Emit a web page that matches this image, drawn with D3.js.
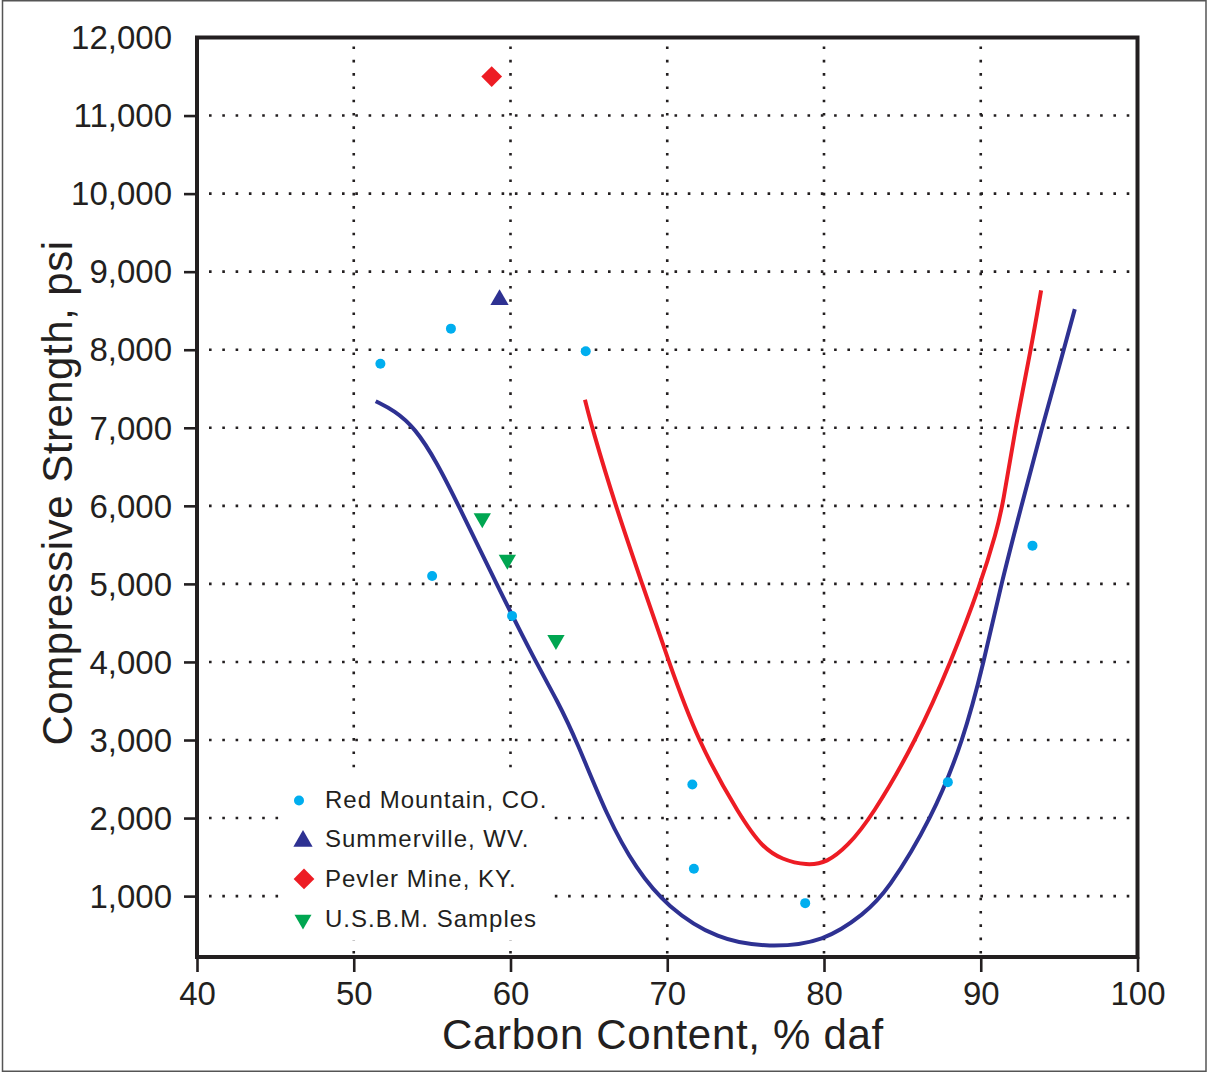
<!DOCTYPE html>
<html>
<head>
<meta charset="utf-8">
<script src="https://cdn.jsdelivr.net/npm/d3@7"></script>
<style>
html, body { margin: 0; padding: 0; background: #ffffff; }
svg { display: block; }
text { font-family: "Liberation Sans", Arial, Helvetica, sans-serif; fill: #231f20; }
</style>
</head>
<body>
<svg id="chart" width="1208" height="1073"></svg>
<script>
// ---------- data ----------
const xTickValues = [40, 50, 60, 70, 80, 90, 100];
const yTickValues = [1000, 2000, 3000, 4000, 5000, 6000, 7000, 8000, 9000, 10000, 11000, 12000];
const xGridValues = [50, 60, 70, 80, 90];
const yGridValues = [1000, 2000, 3000, 4000, 5000, 6000, 7000, 8000, 9000, 10000, 11000];

const xTitle = "Carbon Content, % daf";
const yTitle = "Compressive Strength, psi";

const seriesNames = ["Red Mountain, CO.", "Summerville, WV.", "Pevler Mine, KY.", "U.S.B.M. Samples"];

const redMountainX = [51.7, 56.2, 64.8, 55.0, 60.1, 71.6, 71.7, 78.8, 87.9, 93.3];
const redMountainY = [7820, 8270, 7980, 5100, 4590, 2430, 1350, 910, 2460, 5490];

const summervilleX = [59.3];
const summervilleY = [8640];

const pevlerX = [58.8];
const pevlerY = [11500];

const usbmX = [58.2, 59.8, 62.9];
const usbmY = [5840, 5310, 4280];

const blueCurveX = [51.4, 52.6, 53.9, 55.3, 56.7, 59.1, 61.6, 63.0, 64.2, 66.2, 68.0, 70.0, 73.2, 76.5, 80.0, 82.6, 84.0, 86.9, 88.9, 90.2, 91.3, 92.6, 93.9, 95.3, 96.0];
const blueCurveY = [7340, 7220, 7000, 6560, 6000, 5000, 4000, 3500, 3000, 2000, 1350, 860, 440, 340, 410, 780, 1050, 2000, 3000, 4000, 5000, 6000, 7000, 8000, 8520];

const redCurveX = [64.75, 65.2, 66.7, 68.4, 70.1, 71.9, 74.7, 76.1, 77.3, 78.9, 80.2, 81.5, 83.0, 85.9, 88.1, 90.0, 91.0, 91.4, 92.2, 93.2, 93.85];
const redCurveY = [7360, 7000, 6000, 5000, 4000, 3000, 2000, 1620, 1470, 1390, 1430, 1640, 2000, 3000, 4000, 5000, 5670, 6000, 7000, 8000, 8760];

// ---------- layout ----------
const plot = { left: 197, right: 1137.5, top: 37.5, bottom: 957 };
const colors = { cyan: "#00aeef", navy: "#2e3192", red: "#ed1c24", green: "#00a651", ink: "#231f20" };

const svg = d3.select("#chart");

const x = d3.scaleLinear().domain([40, 100]).range([plot.left, plot.right]);
const y = d3.scaleLinear().domain([220, 12000]).range([plot.bottom, plot.top]);

// outer border
svg.append("rect")
  .attr("x", 2.5).attr("y", 0.75).attr("width", 1203.5).attr("height", 1070.5)
  .attr("fill", "none").attr("stroke", "#555").attr("stroke-width", 1.5);

// gridlines
const grid = svg.append("g").attr("stroke", colors.ink).attr("stroke-width", 2.6)
  .attr("stroke-dasharray", "2.6 10.7").attr("fill", "none");
grid.selectAll("line.h").data(yGridValues).join("line")
  .attr("class", "h")
  .attr("x1", plot.left + 12).attr("x2", plot.right - 3)
  .attr("y1", d => y(d)).attr("y2", d => y(d));
grid.selectAll("line.v").data(xGridValues).join("line")
  .attr("class", "v")
  .attr("x1", d => x(d)).attr("x2", d => x(d))
  .attr("y1", plot.top + 9).attr("y2", plot.bottom - 2);

// legend background (hides grid)
const legend = svg.append("g");
legend.append("rect")
  .attr("x", 281).attr("y", 774).attr("width", 272).attr("height", 166)
  .attr("fill", "#ffffff");

// curves
const line = d3.line().x(d => x(d[0])).y(d => y(d[1])).curve(d3.curveBasis);
svg.append("path")
  .datum(d3.zip(blueCurveX, blueCurveY))
  .attr("d", line).attr("fill", "none").attr("stroke", colors.navy).attr("stroke-width", 4)
  .attr("stroke-linecap", "butt");
svg.append("path")
  .datum(d3.zip(redCurveX, redCurveY))
  .attr("d", line).attr("fill", "none").attr("stroke", colors.red).attr("stroke-width", 4)
  .attr("stroke-linecap", "butt");

// markers
const sym = (type, size) => d3.symbol().type(type).size(size)();
const pts = svg.append("g");
pts.selectAll("circle.rm").data(d3.zip(redMountainX, redMountainY)).join("circle")
  .attr("class", "rm").attr("cx", d => x(d[0])).attr("cy", d => y(d[1])).attr("r", 5)
  .attr("fill", colors.cyan);
pts.selectAll("path.sv").data(d3.zip(summervilleX, summervilleY)).join("path")
  .attr("class", "sv").attr("d", sym(d3.symbolTriangle, 145))
  .attr("transform", d => `translate(${x(d[0])},${y(d[1])})`).attr("fill", colors.navy);
pts.selectAll("path.pv").data(d3.zip(pevlerX, pevlerY)).join("path")
  .attr("class", "pv").attr("d", sym(d3.symbolSquare, 215))
  .attr("transform", d => `translate(${x(d[0])},${y(d[1])}) rotate(45)`).attr("fill", colors.red);
pts.selectAll("path.us").data(d3.zip(usbmX, usbmY)).join("path")
  .attr("class", "us").attr("d", sym(d3.symbolTriangle, 130))
  .attr("transform", d => `translate(${x(d[0])},${y(d[1])}) rotate(180)`).attr("fill", colors.green);

// frame
svg.append("rect")
  .attr("x", plot.left).attr("y", plot.top)
  .attr("width", plot.right - plot.left).attr("height", plot.bottom - plot.top)
  .attr("fill", "none").attr("stroke", colors.ink).attr("stroke-width", 4);

// axes
const xAxis = d3.axisBottom(x).tickValues(xTickValues).tickSize(15).tickPadding(10)
  .tickFormat(d3.format("d"));
const gx = svg.append("g").attr("transform", `translate(0,${plot.bottom})`).call(xAxis);
gx.select(".domain").remove();
gx.selectAll(".tick line").attr("stroke", colors.ink).attr("stroke-width", 2.6);
gx.selectAll(".tick text").attr("font-size", 33).attr("fill", colors.ink)
  .style("font-family", '"Liberation Sans", Arial, Helvetica, sans-serif');

const yAxis = d3.axisLeft(y).tickValues(yTickValues).tickSize(13).tickPadding(12)
  .tickFormat(d3.format(","));
const gy = svg.append("g").attr("transform", `translate(${plot.left},0)`).call(yAxis);
gy.select(".domain").remove();
gy.selectAll(".tick line").attr("stroke", colors.ink).attr("stroke-width", 2.6)
  .attr("opacity", d => d === 12000 ? 0 : 1);
gy.selectAll(".tick text").attr("font-size", 33).attr("fill", colors.ink).attr("dy", "0.34em")
  .style("font-family", '"Liberation Sans", Arial, Helvetica, sans-serif');

// axis titles
svg.append("text")
  .attr("x", 663).attr("y", 1049)
  .attr("text-anchor", "middle").attr("font-size", 42).attr("letter-spacing", 0.7)
  .text(xTitle);
svg.append("text")
  .attr("transform", "translate(72,493) rotate(-90)")
  .attr("text-anchor", "middle").attr("font-size", 42).attr("letter-spacing", 0.5)
  .text(yTitle);

// legend items
const legendSymbols = [
  g => g.append("circle").attr("cx", -4).attr("cy", 0).attr("r", 5).attr("fill", colors.cyan),
  g => g.append("path").attr("d", sym(d3.symbolTriangle, 160)).attr("transform", "translate(0,1)").attr("fill", colors.navy),
  g => g.append("path").attr("d", sym(d3.symbolSquare, 215)).attr("transform", "translate(1,-1) rotate(45)").attr("fill", colors.red),
  g => g.append("path").attr("d", sym(d3.symbolTriangle, 125)).attr("transform", "translate(0,0) rotate(180)").attr("fill", colors.green)
];
seriesNames.forEach((name, i) => {
  const baseY = 807.5 + i * 39.7;
  const g = legend.append("g").attr("transform", `translate(303,${baseY - 7})`);
  legendSymbols[i](g);
  legend.append("text")
    .attr("x", 325).attr("y", baseY)
    .attr("font-size", 24).attr("letter-spacing", 1)
    .text(name);
});
</script>
</body>
</html>
